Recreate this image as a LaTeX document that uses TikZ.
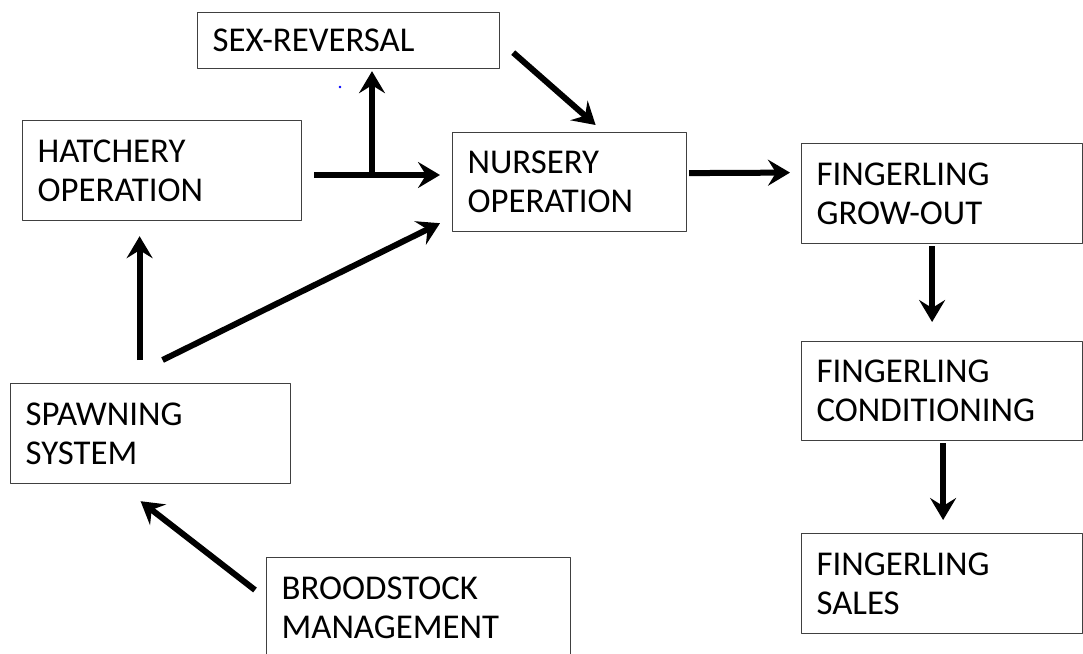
\documentclass[tikz,border=0pt]{standalone}
\usepackage{fontspec}
\setmainfont{Carlito}
\usepackage{tikz}
\usetikzlibrary{arrows.meta}

\begin{document}
\begin{tikzpicture}[line cap=round,line join=round,>={Stealth[length=22pt,width=26pt,inset=8pt]},x=1pt,y=-1pt,
  stagebox/.style={draw=black!75,line width=1.2pt,fill=white,rectangle,anchor=north west,align=left,
    inner xsep=15pt,inner ysep=0pt,font=\fontsize{34.8}{39}\selectfont},
  flow/.style={->,line width=6pt,line cap=butt}]
\useasboundingbox (0,0) rectangle (1083,653);
\clip (0,0) rectangle (1083,653);
% stages
\node[stagebox,text width=272pt,minimum height=56pt] (sexrev) at (197,12) {SEX-REVERSAL};
\node[stagebox,text width=249pt,minimum height=100pt] (hatch) at (22,120) {HATCHERY\\OPERATION};
\node[stagebox,text width=204pt,minimum height=99pt] (nurs) at (452,132) {NURSERY\\OPERATION};
\node[stagebox,text width=251pt,minimum height=100pt] (grow) at (801,143) {FINGERLING\\GROW-OUT};
\node[stagebox,text width=251pt,minimum height=99pt] (cond) at (801,341) {FINGERLING\\CONDITIONING};
\node[stagebox,text width=251pt,minimum height=100pt] (sales) at (801,533) {FINGERLING\\SALES};
\node[stagebox,text width=250pt,minimum height=100pt] (spawn) at (10,383) {SPAWNING\\SYSTEM};
\node[stagebox,text width=274pt,minimum height=100pt] (brood) at (266,557) {BROODSTOCK\\MANAGEMENT};
\coordinate (br) at (372,175);
% flows
\draw[flow,shorten <=12pt,shorten >=12pt] (hatch.east |- br) -- (nurs.west |- br);
\draw[flow,shorten >=2pt] (br) -- (sexrev.south -| br);
\draw[flow] ([shift={(13,12)}]sexrev.east) -- ([shift={(26,-7)}]nurs.north);
\draw[flow] ([shift={(2,-9)}]nurs.east) -- ([shift={(-11,-21)}]grow.west);
\draw[flow] ([shift={(-10,2)}]grow.south) -- ([shift={(-10,-19)}]cond.north);
\draw[flow] ([shift={(1,2)}]cond.south) -- ([shift={(1,-13)}]sales.north);
\draw[flow] ([shift={(-11,-23)}]spawn.north) -- ([shift={(-22.5,15)}]hatch.south);
\draw[flow] ([shift={(12,-23)}]spawn.north) -- ([shift={(-12,-9)}]nurs.south west);
\draw[flow] ([shift={(-11,33)}]brood.north west) -- ([shift={(-10,17)}]spawn.south);
\fill[blue] (340,87) circle (1.3);
\end{tikzpicture}
\end{document}
